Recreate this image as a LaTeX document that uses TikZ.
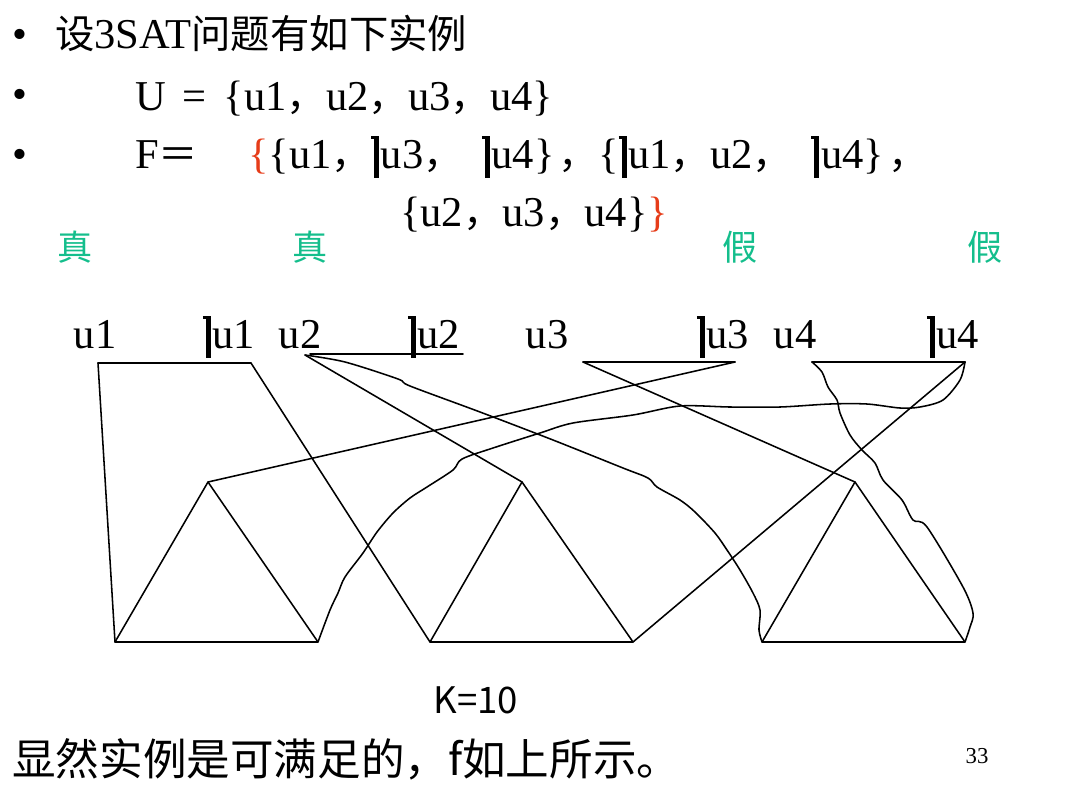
\documentclass[tikz,border=0pt]{standalone}
\usepackage{fontspec}
\setmainfont{Liberation Serif}[Scale=1.08]
\newfontfamily\cjk{Noto Sans CJK SC}
\usepackage{tikz}
\definecolor{zhen}{RGB}{20,190,140}
\definecolor{kuohao}{RGB}{230,60,25}
\newcommand{\negl}{\mbox{\rule[0.69em]{0.07em}{0.06em}\rule[-0.23em]{0.12em}{0.98em}\hspace{0.04em}}}
\newcommand{\dou}{{\cjk ，}}

\begin{document}
\begin{tikzpicture}[line cap=round,line join=round,x=0.025cm,y=-0.025cm,
  big/.style={font=\fontsize{28}{34}\selectfont,anchor=base west,inner sep=0pt},
  dot/.style={font=\fontsize{28}{34}\selectfont,anchor=base,inner sep=0pt},
  lit/.style={font=\fontsize{28}{34}\selectfont,anchor=base,inner sep=0pt},
  tf/.style={font=\cjk\fontsize{25}{30}\selectfont,text=zhen,inner sep=0pt}]

\useasboundingbox (0.,0.) rectangle (1080.,810.);

% the instance
\draw (20.,48.) node[dot] (b1) {•};
\draw (20.,108.) node[dot] (b2) {•};
\draw (20.,168.) node[dot] (b3) {•};
\draw (55.,48.) node[big] (t1) {{\cjk 设}3SAT{\cjk 问题有如下实例}};
\draw (135.,110.) node[big] (t2) {U\hspace{0.4em}=\hspace{0.4em}\{u1\dou u2\dou u3\dou u4\}};
\draw (135.,168.) node[big] (t3) {F{\cjk ＝}};
\draw (248.,168.) node[big] (t4) {\textcolor{kuohao}{\{}\{u1\dou\negl u3\dou\hspace{0.45em}\negl u4\}\hspace{0.1em}\dou\{\negl u1\dou u2\dou\hspace{0.45em}\negl u4\}\hspace{0.1em}\dou};
\draw (400.,226.) node[big] (t5) {\{u2\dou u3\dou u4\}\textcolor{kuohao}{\}}};

% truth values
\draw (75.,247.) node[tf] (v1) {真};
\draw (310.,247.) node[tf] (v2) {真};
\draw (740.,247.) node[tf] (v3) {假};
\draw (985.,247.) node[tf] (v4) {假};

% literals
\draw (95.,348.) node[lit] (u1) {u1};
\draw (229.,348.) node[lit] (nu1) {\negl u1};
\draw (300.,348.) node[lit] (u2) {u2};
\draw (434.,348.) node[lit] (nu2) {\negl u2};
\draw (547.,348.) node[lit] (u3) {u3};
\draw (723.,348.) node[lit] (nu3) {\negl u3};
\draw (795.,348.) node[lit] (u4) {u4};
\draw (953.,348.) node[lit] (nu4) {\negl u4};

\coordinate (pu1) at (98.,363.);
\coordinate (pnu1) at (251.,363.);
\coordinate (pu2) at (305.,355.);
\coordinate (pnu2) at (463.,354.);
\coordinate (pu3) at (583.,362.);
\coordinate (pnu3) at (735.,362.);
\coordinate (pu4) at (812.,362.);
\coordinate (pnu4) at (965.,362.);

% clauses
\coordinate (c1a) at (208.,482.);
\coordinate (c1l) at (115.,642.);
\coordinate (c1r) at (318.,642.);
\coordinate (c2a) at (522.,482.);
\coordinate (c2l) at (430.,642.);
\coordinate (c2r) at (633.,642.);
\coordinate (c3a) at (855.,482.);
\coordinate (c3l) at (762.,642.);
\coordinate (c3r) at (965.,642.);

\draw [line width=1.1pt] (c1a)-- (c1l)-- (c1r)-- cycle;
\draw [line width=1.1pt] (c2a)-- (c2l)-- (c2r)-- cycle;
\draw [line width=1.1pt] (c3a)-- (c3l)-- (c3r)-- cycle;

\draw [line width=1.1pt] (pu1)-- (pnu1);
\draw [line width=1.1pt] (310.,354.)-- (pnu2);
\draw [line width=1.1pt] (pu3)-- (pnu3);
\draw [line width=1.1pt] (pu4)-- (pnu4);

\draw [line width=1.1pt] (pu1)-- (c1l);
\draw [line width=1.1pt] (pnu1)-- (c2l);
\draw [line width=1.1pt] (pu2)-- (c2a);
\draw [line width=1.1pt] (pnu3)-- (c1a);
\draw [line width=1.1pt] (pu3)-- (c3a);
\draw [line width=1.1pt] (pnu4)-- (c2r);

% hand drawn ones
\draw [line width=1.1pt] plot[smooth] coordinates {(pu2) (345.,362.) (398.,379.) (410.,386.) (480.,412.) (553.,440.) (623.,468.) (648.,478.) (657.,487.) (680.,500.) (695.,512.) (715.,533.) (727.,550.) (740.,570.) (753.,593.) (760.,610.) (759.,630.) (c3l)};
\draw [line width=1.1pt] plot[smooth] coordinates {(pnu4) (960.,380.) (943.,400.) (920.,407.) (900.,408.) (867.,404.) (830.,404.) (780.,407.) (730.,407.) (680.,406.) (633.,415.) (573.,423.) (540.,433.) (493.,448.) (462.,459.) (453.,470.) (427.,487.) (410.,498.) (393.,513.) (377.,532.) (363.,553.) (345.,577.) (338.,593.) (330.,610.) (c1r)};
\draw [line width=1.1pt] plot[smooth] coordinates {(pu4) (822.,372.) (828.,387.) (837.,400.) (840.,413.) (850.,435.) (862.,450.) (875.,463.) (883.,480.) (902.,500.) (913.,520.) (927.,527.) (963.,587.) (973.,613.) (970.,627.) (c3r)};

% bottom
\draw (476.,700.) node[font=\cjk\fontsize{26}{30}\selectfont,inner sep=0pt] (k) {K=10};
\draw (12.,775.) node[font=\cjk\fontsize{31}{36}\selectfont,anchor=base west,inner sep=0pt] (t6) {显然实例是可满足的，f如上所示。};
\draw (977.,763.) node[font=\fontsize{15}{18}\selectfont,anchor=base,inner sep=0pt] (pg) {33};
\end{tikzpicture}
\end{document}
